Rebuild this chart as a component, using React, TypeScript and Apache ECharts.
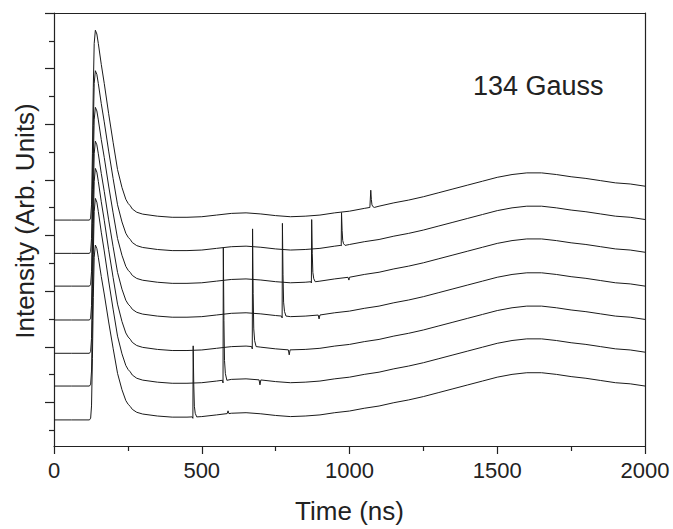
import { useEffect, useRef } from 'react';
import * as echarts from 'echarts';

// Shared trace template (time in ns)
const TIMES = [0, 60, 120, 124, 127, 130, 133, 136, 140, 145, 150, 160, 170, 185, 200, 215, 230, 243, 251, 258, 265, 280, 300,
  350, 400, 450, 500, 550, 600, 650, 700, 750, 800, 850, 900, 950, 1000, 1050, 1100, 1150, 1200, 1250, 1300,
  1350, 1400, 1450, 1500, 1550, 1600, 1650, 1700, 1750, 1800, 1850, 1900, 1950, 2000];
// Initial pulse, as a fraction of each trace's peak height
const PULSE = [0, 0, 0, 0.01, 0.08, 0.35, 0.7, 0.93, 1, 0.98, 0.93, 0.82, 0.72, 0.56, 0.41, 0.26, 0.16, 0.095, 0.07, 0.055, 0.035, 0.015, 0.005,
  0, 0, 0, 0, 0, 0, 0, 0, 0, 0, 0, 0, 0, 0, 0, 0, 0, 0, 0, 0, 0, 0, 0, 0, 0, 0, 0, 0, 0, 0, 0, 0, 0, 0];
// Slow background (arb. units above each trace's baseline)
const BG = [0, 0, 0, 0, 0, 0, 0, 0, 0, 0, 0, 0, 0, 0, 0, 0.02, 0.04, 0.05, 0.06, 0.07, 0.08, 0.09, 0.09,
  0.07, 0.05, 0.05, 0.06, 0.09, 0.12, 0.13, 0.11, 0.08, 0.06,
  0.07, 0.09, 0.13, 0.16, 0.21, 0.25, 0.31, 0.36, 0.42, 0.49,
  0.56, 0.63, 0.70, 0.77, 0.82, 0.85, 0.85, 0.82, 0.78, 0.75,
  0.71, 0.67, 0.65, 0.61];

// Per-trace values, bottom trace first
const OFFSETS = [0.47, 1.08, 1.67, 2.27, 2.88, 3.47, 4.07];
const PEAKS = [3.15, 3.38, 3.33, 3.22, 3.22, 3.29, 3.42];
const SPIKE_T = [471, 573, 672, 773, 872, 973, 1072];
const SPIKE_H = [1.28, 2.39, 2.12, 1.67, 1.12, 0.59, 0.31];
const ECHO_T = [589, 697, 796, 897, 998, 0, 0];
const ECHO_H = [0.05, -0.09, -0.09, -0.07, -0.05, 0, 0];

// Spike profile (time offsets in ns, fraction of spike height)
const SPIKE_DT = [-3, -1, 0, 2, 4, 7, 12];
const SPIKE_F = [0, -0.02, 1, 0.45, 0.15, 0.05, 0];

const X_TITLE = 'Time (ns)';
const Y_TITLE = 'Intensity (Arb. Units)';
const NOTE = '134 Gauss';

const FONT = '"Liberation Sans", Arial, Helvetica, sans-serif';
const INK = '#222';

function bgAt(t: number): number {
  for (let i = 1; i < TIMES.length; i++) {
    if (t <= TIMES[i]) {
      const a = TIMES[i - 1], b = TIMES[i];
      const f = (t - a) / (b - a);
      return BG[i - 1] + (BG[i] - BG[i - 1]) * f;
    }
  }
  return BG[BG.length - 1];
}

function buildTrace(k: number): number[][] {
  const pts: number[][] = TIMES.map((t, i) => [t, OFFSETS[k] + PULSE[i] * PEAKS[k] + BG[i]]);
  const ts = SPIKE_T[k];
  const base = bgAt(ts);
  SPIKE_DT.forEach((dt, j) => {
    pts.push([ts + dt, OFFSETS[k] + base + SPIKE_F[j] * SPIKE_H[k]]);
  });
  if (ECHO_T[k] > 0) {
    const te = ECHO_T[k];
    const eb = bgAt(te);
    pts.push([te - 3, OFFSETS[k] + eb]);
    pts.push([te, OFFSETS[k] + eb + ECHO_H[k]]);
    pts.push([te + 3, OFFSETS[k] + eb]);
  }
  pts.sort((a, b) => a[0] - b[0]);
  return pts;
}

export default function App() {
  const ref = useRef<HTMLDivElement>(null);
  useEffect(() => {
    document.body.style.margin = '0';
    if (!ref.current) return;
    const chart = echarts.init(ref.current, null, { renderer: 'svg' });
    const line = { color: INK, width: 1.2 };
    const series = OFFSETS.map((_, k) => ({
      type: 'line',
      xAxisIndex: 0,
      yAxisIndex: 0,
      data: buildTrace(k),
      showSymbol: false,
      symbol: 'none',
      lineStyle: { color: '#1a1a1a', width: 1 },
      silent: true,
    }));
    chart.setOption({
      animation: false,
      backgroundColor: '#fff',
      grid: [
        { left: 54, right: 28, top: 13, bottom: 82 },
        { left: 54, right: 28, top: 13, height: 389.5 },
        { left: 54, right: 28, top: 40.8, height: 389.5 },
      ],
      xAxis: [
        {
          gridIndex: 0, type: 'value', min: 0, max: 2000, interval: 500,
          axisLine: { show: true, onZero: false, lineStyle: line },
          axisTick: { show: true, length: 8, inside: false, lineStyle: line },
          minorTick: { show: true, splitNumber: 2, length: 5, lineStyle: line },
          axisLabel: { fontSize: 22, color: INK, margin: 13, fontFamily: FONT, formatter: (v: number) => String(v) },
          splitLine: { show: false },
          name: X_TITLE, nameLocation: 'middle', nameGap: 52,
          nameTextStyle: { fontSize: 26, color: INK, fontFamily: FONT },
        },
        {
          gridIndex: 0, type: 'value', position: 'top', min: 0, max: 2000,
          axisLine: { show: true, onZero: false, lineStyle: line },
          axisTick: { show: false }, axisLabel: { show: false }, splitLine: { show: false },
        },
        { gridIndex: 1, type: 'value', min: 0, max: 1, show: false },
        { gridIndex: 2, type: 'value', min: 0, max: 1, show: false },
      ],
      yAxis: [
        {
          gridIndex: 0, type: 'value', min: 0, max: 7.8,
          axisLine: { show: true, onZero: false, lineStyle: line },
          axisTick: { show: false }, axisLabel: { show: false }, splitLine: { show: false },
        },
        {
          gridIndex: 0, type: 'value', position: 'right', min: 0, max: 7.8,
          axisLine: { show: true, onZero: false, lineStyle: line },
          axisTick: { show: false }, axisLabel: { show: false }, splitLine: { show: false },
        },
        {
          gridIndex: 1, type: 'value', inverse: true, min: 0, max: 7, interval: 1,
          axisLine: { show: false },
          axisTick: { show: true, length: 9, inside: false, lineStyle: line },
          axisLabel: { show: false }, splitLine: { show: false },
        },
        {
          gridIndex: 2, type: 'value', inverse: true, min: 0, max: 7, interval: 1,
          axisLine: { show: false },
          axisTick: { show: true, length: 5, inside: false, lineStyle: line },
          axisLabel: { show: false }, splitLine: { show: false },
        },
      ],
      graphic: [
        {
          type: 'text', left: 473, top: 72,
          style: { text: NOTE, font: `27px ${FONT}`, fill: INK },
        },
        {
          type: 'text', x: 25, y: 221, rotation: Math.PI / 2,
          style: { text: Y_TITLE, font: `26px ${FONT}`, fill: INK, align: 'center', verticalAlign: 'middle' },
        },
      ],
      series,
    });
    return () => chart.dispose();
  }, []);
  return <div ref={ref} style={{ width: 673, height: 529 }} />;
}
